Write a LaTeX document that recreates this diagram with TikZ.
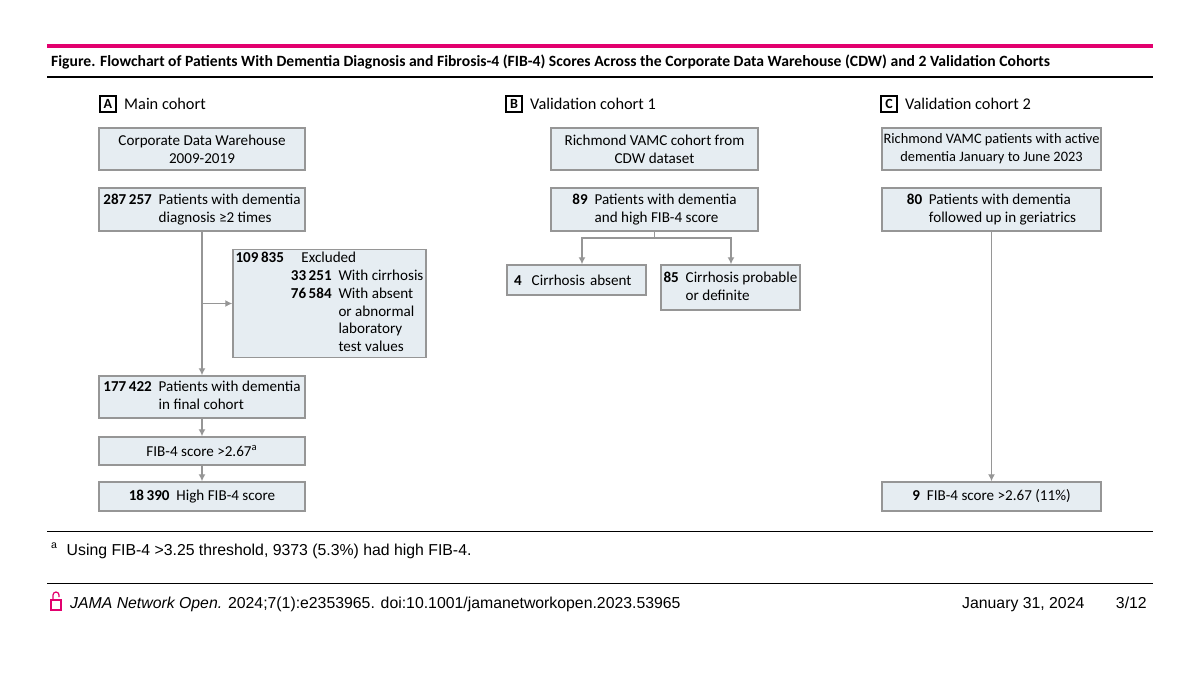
\documentclass[tikz,border=0pt]{standalone}
\usepackage{fontspec}
\setmainfont{Carlito}
\newfontfamily\sansfont{Liberation Sans}
\usetikzlibrary{arrows.meta}
\definecolor{boxfill}{RGB}{230,237,242}
\definecolor{boxline}{RGB}{150,150,150}
\definecolor{jamapink}{RGB}{226,0,110}
\tikzset{
  box/.style={draw=boxline,fill=boxfill,line width=0.8pt,inner sep=0pt,align=center,font=\fontsize{8.6}{10.2}\selectfont},
  tag/.style={draw,line width=0.6pt,minimum width=0.32cm,minimum height=0.32cm,inner sep=0pt,font=\fontsize{8}{9}\selectfont\bfseries},
  head/.style={anchor=west,font=\fontsize{9.3}{11}\selectfont},
  flow/.style={draw=boxline,line width=0.8pt,-{Latex[length=4pt,width=4pt]}},
  plain/.style={draw=boxline,line width=0.8pt}
}
\newcommand{\nb}[1]{\textbf{#1}}
\begin{document}
\begin{tikzpicture}[x=0.02cm,y=-0.02cm]
\useasboundingbox (0,0) rectangle (1200,675);
% header and rules
\draw[jamapink,line width=2.5pt] (47,46) -- (1153,46);
\node[anchor=west,font=\fontsize{8.9}{11}\selectfont\bfseries] (title) at (45,62) {Figure. Flowchart of Patients With Dementia Diagnosis and Fibrosis-4 (FIB-4) Scores Across the Corporate Data Warehouse (CDW) and 2 Validation Cohorts};
\draw[line width=0.6pt] (47,77) -- (1153,77);
% panel A
\node[tag] (tagA) at (108,104) {A};
\node[head] (headA) at (118,104) {Main cohort};
\node[box,minimum width=4.12cm,minimum height=0.84cm] (a1) at (202,149) {Corporate Data Warehouse\\2009-2019};
\node[box,minimum width=4.12cm,minimum height=0.86cm] (a2) at (202,209.5) {\begin{tabular}{@{}l@{\ \ }l@{}}\nb{287\,257} & Patients with dementia\\ & diagnosis ≥2 times\end{tabular}};
\node[box,minimum width=3.86cm,minimum height=2.14cm,align=left] (ax) at (329.5,303.5) {\begin{tabular}{@{}l@{\ \ }l@{\ \ }l@{}}\nb{109\,835} & \multicolumn{2}{l}{Excluded}\\ & \nb{33\,251} & With cirrhosis\\ & \nb{76\,584} & With absent\\ & & or abnormal\\ & & laboratory\\ & & test values\end{tabular}};
\node[box,minimum width=4.12cm,minimum height=0.84cm] (a3) at (202,397) {\begin{tabular}{@{}l@{\ \ }l@{}}\nb{177\,422} & Patients with dementia\\ & in final cohort\end{tabular}};
\node[box,minimum width=4.12cm,minimum height=0.56cm] (a4) at (202,451) {FIB-4 score >2.67\textsuperscript{a}};
\node[box,minimum width=4.12cm,minimum height=0.58cm] (a5) at (202,496.5) {\nb{18\,390}\ \ High FIB-4 score};
\coordinate (abr) at (a2.south |- ax.west);
\draw[flow] (a2) -- (a3);
\draw[flow] (abr) -- (ax);
\draw[flow] (a3) -- (a4);
\draw[flow] (a4) -- (a5);
% panel B
\node[tag] (tagB) at (514,104) {B};
\node[head] (headB) at (524,104) {Validation cohort 1};
\node[box,minimum width=4.14cm,minimum height=0.84cm] (b1) at (654.5,149) {Richmond VAMC cohort from\\CDW dataset};
\node[box,minimum width=4.14cm,minimum height=0.86cm] (b2) at (654.5,209.5) {\begin{tabular}{@{}l@{\ \ }l@{}}\nb{89} & Patients with dementia\\ & and high FIB-4 score\end{tabular}};
\node[box,minimum width=2.78cm,minimum height=0.6cm,text width=2.5cm,align=left] (b3) at (576.5,280) {\nb{4}\ \ Cirrhosis absent};
\node[box,minimum width=2.78cm,minimum height=0.9cm] (b4) at (730.5,287.5) {\begin{tabular}{@{}l@{\ \ }l@{}}\nb{85} & Cirrhosis probable\\ & or definite\end{tabular}};
\coordinate (bsp) at (654.5,238);
\draw[plain] (b2) -- (bsp);
\draw[flow] (bsp) -| (b3.north -| 582,0);
\draw[flow] (bsp) -| (b4.north -| 731,0);
% panel C
\node[tag] (tagC) at (889,104) {C};
\node[head] (headC) at (899,104) {Validation cohort 2};
\node[box,minimum width=4.38cm,minimum height=0.84cm,font=\fontsize{8.2}{10.2}\selectfont] (c1) at (991.5,149) {Richmond VAMC patients with active\\dementia January to June 2023};
\node[box,minimum width=4.38cm,minimum height=0.86cm] (c2) at (991.5,209.5) {\begin{tabular}{@{}l@{\ \ }l@{}}\nb{80} & Patients with dementia\\ & followed up in geriatrics\end{tabular}};
\node[box,minimum width=4.38cm,minimum height=0.58cm] (c3) at (991.5,496.5) {\nb{9}\ \ FIB-4 score >2.67 (11\%)};
\draw[flow] (c2) -- (c3);
% footnote and footer
\draw[line width=0.5pt] (47,531) -- (1153,531);
\node[anchor=west,font=\sansfont\fontsize{9}{11}\selectfont] (note) at (45,551) {\textsuperscript{a}\ \ Using FIB-4 >3.25 threshold, 9373 (5.3\%) had high FIB-4.};
\draw[line width=0.5pt] (47,583) -- (1153,583);
% open padlock
\draw[jamapink,line width=0.7pt] (51,600) rectangle (61,610);
\draw[jamapink,line width=0.7pt] (53,600) -- (53,595) arc[start angle=180,end angle=360,radius=3] -- (59,597);
\node[anchor=west,font=\sansfont\fontsize{9}{11}\selectfont] (cite) at (64,604) {\textit{JAMA Network Open.} 2024;7(1):e2353965. doi:10.1001/jamanetworkopen.2023.53965};
\node[anchor=east,font=\sansfont\fontsize{9}{11}\selectfont] (date) at (1153,604) {January 31, 2024\qquad 3/12};
\end{tikzpicture}
\end{document}
